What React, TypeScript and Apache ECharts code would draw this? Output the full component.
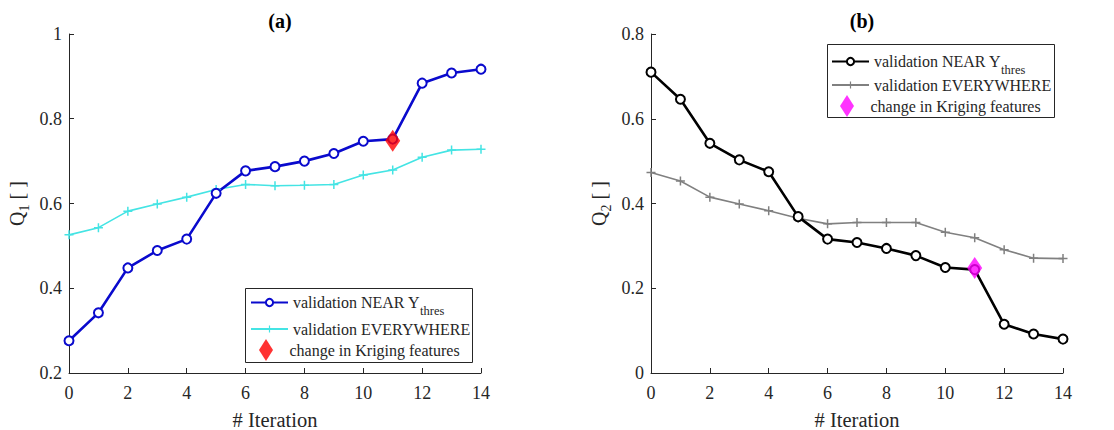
import React, { useEffect, useRef } from "react";
import * as echarts from "echarts";

const iterations = [0, 1, 2, 3, 4, 5, 6, 7, 8, 9, 10, 11, 12, 13, 14];
const q1Near = [0.276, 0.342, 0.448, 0.489, 0.516, 0.624, 0.677, 0.687, 0.7, 0.718, 0.747, 0.752, 0.884, 0.908, 0.917];
const q1Everywhere = [0.526, 0.543, 0.582, 0.599, 0.615, 0.633, 0.645, 0.642, 0.643, 0.645, 0.667, 0.679, 0.709, 0.726, 0.728];
const q2Near = [0.71, 0.646, 0.542, 0.503, 0.475, 0.369, 0.316, 0.308, 0.294, 0.277, 0.249, 0.244, 0.115, 0.092, 0.08];
const q2Everywhere = [0.473, 0.453, 0.415, 0.399, 0.383, 0.365, 0.352, 0.355, 0.355, 0.355, 0.332, 0.319, 0.291, 0.271, 0.27];
const changeIteration = 11;
const q1Change = 0.748;
const q2Change = 0.248;
const q1Ticks = [0.2, 0.4, 0.6, 0.8, 1];
const q2Ticks = [0, 0.2, 0.4, 0.6, 0.8];
const xTicks = [0, 2, 4, 6, 8, 10, 12, 14];
const legendNames = ["validation NEAR Y", "validation EVERYWHERE", "change in Kriging features"];

const FONT = "Liberation Serif";
const AX = "#262626";
const PLUS = "path://M5,0H7V5H12V7H7V12H5V7H0V5H5Z";
const DIAMOND = "path://M7,0L14,11L7,22L0,11Z";

const pairs = (ys: number[]) => iterations.map((x, i) => [x, ys[i]]);

export default function App() {
  const ref = useRef<HTMLDivElement>(null);
  useEffect(() => {
    if (!ref.current) return;
    const chart = echarts.init(ref.current, null, { renderer: "svg" });
    const xAxisBase = (gi: number) => ({
      type: "value",
      gridIndex: gi,
      min: xTicks[0],
      max: xTicks[xTicks.length - 1],
      interval: 2,
      name: "# Iteration",
      nameLocation: "middle",
      nameGap: 36,
      nameTextStyle: { fontFamily: FONT, fontSize: 20.5, color: AX },
      axisLine: { lineStyle: { color: AX, width: 1 } },
      axisTick: { inside: true, length: 5, lineStyle: { color: AX } },
      axisLabel: { fontFamily: FONT, fontSize: 18, color: AX, margin: 11 },
      splitLine: { show: false },
    });
    const yAxisBase = (gi: number, ticks: number[], sub: string) => ({
      type: "value",
      gridIndex: gi,
      min: ticks[0],
      max: ticks[ticks.length - 1],
      interval: 0.2,
      name: `{a|Q}{s|${sub}}{a| [ ]}`,
      nameLocation: "middle",
      nameGap: 42,
      nameTextStyle: {
        fontFamily: FONT,
        fontSize: 20,
        color: AX,
        rich: {
          a: { fontFamily: FONT, fontSize: 20, lineHeight: 20, color: AX },
          s: { fontFamily: FONT, fontSize: 14, lineHeight: 14, color: AX, padding: [14, 0, 0, 0] },
        },
      },
      axisLine: { show: true, lineStyle: { color: AX, width: 1 } },
      axisTick: { show: true, inside: true, length: 5, lineStyle: { color: AX } },
      axisLabel: { fontFamily: FONT, fontSize: 18, color: AX, margin: 7 },
      splitLine: { show: false },
    });
    const textStyle = {
      fontFamily: FONT,
      fontSize: 16,
      color: AX,
      rich: {
        t: { fontFamily: FONT, fontSize: 16, lineHeight: 18, color: AX },
        s: { fontFamily: FONT, fontSize: 12.5, lineHeight: 14, color: AX, padding: [17, 0, 0, 0] },
      },
    };
    const legendItem = (seriesName: string, left: number, centerY: number, kind: number) => ({
      data: [seriesName],
      selectedMode: false,
      left: kind === 2 ? left + 9 : left,
      top: kind === 0 ? centerY - 15.5 : kind === 1 ? centerY - 9 : centerY - 11,
      padding: 0,
      itemWidth: 37,
      itemHeight: kind === 2 ? 22 : 9,
      icon: kind === 2 ? DIAMOND : undefined,
      formatter: () => (kind === 0 ? `{t|${legendNames[0]}}{s|thres}` : `{t|${legendNames[kind]}}`),
      textStyle,
    });
    const legendsFor = (suffix: string, left: number, rows: number[]) => [
      legendItem(`near ${suffix}`, left, rows[0], 0),
      legendItem(`every ${suffix}`, left, rows[1], 1),
      legendItem(`change ${suffix}`, left, rows[2], 2),
    ];
    chart.setOption({
      animation: false,
      title: [
        { text: "(a)", left: 275, top: 6, textAlign: "center", textStyle: { fontFamily: FONT, fontSize: 20, fontWeight: "bold", color: "#000" } },
        { text: "(b)", left: 857, top: 6, textAlign: "center", textStyle: { fontFamily: FONT, fontSize: 20, fontWeight: "bold", color: "#000" } },
      ],
      grid: [
        { left: 69, top: 34, width: 412, height: 339, outerBoundsMode: "none", containLabel: false },
        { left: 651, top: 34, width: 412, height: 339, outerBoundsMode: "none", containLabel: false },
      ],
      xAxis: [xAxisBase(0), xAxisBase(1)],
      yAxis: [yAxisBase(0, q1Ticks, "1"), yAxisBase(1, q2Ticks, "2")],
      graphic: [
        { type: "rect", left: 245, top: 288, shape: { width: 227, height: 74 }, style: { fill: "#fff", stroke: AX, lineWidth: 1 }, z: 0 },
        { type: "rect", left: 827, top: 44, shape: { width: 227, height: 73 }, style: { fill: "#fff", stroke: AX, lineWidth: 1 }, z: 0 },
      ],
      legend: [...legendsFor("(a)", 250, [303, 330, 350]), ...legendsFor("(b)", 831, [62, 86, 106])],
      series: [
        {
          name: "every (a)",
          type: "line",
          xAxisIndex: 0,
          yAxisIndex: 0,
          data: pairs(q1Everywhere),
          symbol: PLUS,
          symbolSize: 9,
          lineStyle: { color: "#44e4e4", width: 1.6 },
          itemStyle: { color: "#44e4e4" },
        },
        {
          name: "near (a)",
          type: "line",
          xAxisIndex: 0,
          yAxisIndex: 0,
          data: pairs(q1Near),
          symbol: "circle",
          symbolSize: 9,
          lineStyle: { color: "#0a0acd", width: 2.6 },
          itemStyle: { color: "#fff", borderColor: "#0a0acd", borderWidth: 2 },
        },
        {
          name: "change (a)",
          type: "scatter",
          xAxisIndex: 0,
          yAxisIndex: 0,
          z: 5,
          data: [[changeIteration, q1Change]],
          symbol: "diamond",
          symbolSize: [15, 22],
          itemStyle: { color: "#ff0000" },
        },
        {
          name: "every (b)",
          type: "line",
          xAxisIndex: 1,
          yAxisIndex: 1,
          data: pairs(q2Everywhere),
          symbol: PLUS,
          symbolSize: 9,
          lineStyle: { color: "#808080", width: 1.6 },
          itemStyle: { color: "#808080" },
        },
        {
          name: "near (b)",
          type: "line",
          xAxisIndex: 1,
          yAxisIndex: 1,
          data: pairs(q2Near),
          symbol: "circle",
          symbolSize: 9,
          lineStyle: { color: "#000", width: 2.6 },
          itemStyle: { color: "#fff", borderColor: "#000", borderWidth: 2 },
        },
        {
          name: "change (b)",
          type: "scatter",
          xAxisIndex: 1,
          yAxisIndex: 1,
          z: 5,
          data: [[changeIteration, q2Change]],
          symbol: "diamond",
          symbolSize: [15, 22],
          itemStyle: { color: "#ff00ff" },
        },
      ],
    });
    return () => chart.dispose();
  }, []);
  return (
    <div
      ref={ref}
      style={{ position: "fixed", left: 0, top: 0, width: 1114, height: 430, background: "#fff" }}
    />
  );
}
